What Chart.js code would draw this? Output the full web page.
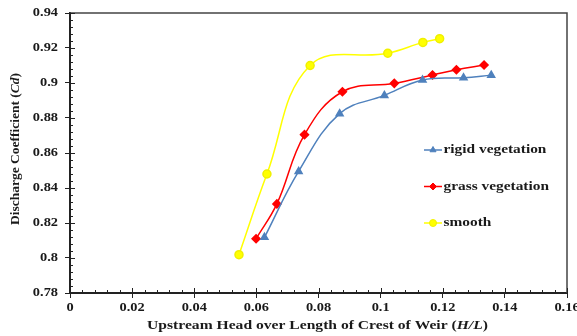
<!DOCTYPE html>
<html>
<head>
<meta charset="utf-8">
<script src="https://cdn.jsdelivr.net/npm/chart.js@4.4.0/dist/chart.umd.min.js"></script>
<style>
  html, body { margin: 0; padding: 0; background: #fff; }
  #wrap { width: 577px; height: 336px; position: relative; }
</style>
</head>
<body>
<div id="wrap"><canvas id="grafica"></canvas></div>
<script>
// datos (H/L contra Cd)
const xRigida = [0.0626, 0.0736, 0.0868, 0.1012, 0.1135, 0.1267, 0.1356];
const yRigida = [0.8118, 0.8495, 0.8825, 0.8929, 0.9017, 0.9030, 0.9045];

const xPasto = [0.0599, 0.0666, 0.0755, 0.0877, 0.1044, 0.1167, 0.1244, 0.1333];
const yPasto = [0.8110, 0.8309, 0.8705, 0.8950, 0.8998, 0.9046, 0.9076, 0.9103];

const xLiso = [0.0544, 0.0634, 0.0773, 0.1023, 0.1136, 0.1190];
const yLiso = [0.8019, 0.8480, 0.9100, 0.9170, 0.9232, 0.9253];

const nombres = ['rigid vegetation', 'grass vegetation', 'smooth'];

const ticksX = [0, 0.02, 0.04, 0.06, 0.08, 0.1, 0.12, 0.14, 0.16];
const ticksY = [0.78, 0.8, 0.82, 0.84, 0.86, 0.88, 0.9, 0.92, 0.94];

const FUENTE = '"Liberation Serif", "Times New Roman", serif';
const ESTIRA = 1.25; // la figura original viene estirada a lo ancho
const pares = (xs, ys) => xs.map((x, i) => ({ x: x, y: ys[i] }));

// texto por partes (normal / cursiva), estirado en horizontal
// align: 'left' | 'center' | 'right'
function textoPartes(ctx, partes, x, y, size, align, sx) {
  const medidas = partes.map(p => {
    ctx.font = (p.it ? 'italic ' : '') + 'bold ' + size + 'px ' + FUENTE;
    return ctx.measureText(p.t).width;
  });
  const total = medidas.reduce((a, b) => a + b, 0) * sx;
  let x0 = align === 'center' ? x - total / 2 : align === 'right' ? x - total : x;
  ctx.save();
  ctx.translate(x0, y);
  ctx.scale(sx, 1);
  ctx.textAlign = 'left';
  ctx.textBaseline = 'middle';
  let acc = 0;
  partes.forEach((p, i) => {
    ctx.font = (p.it ? 'italic ' : '') + 'bold ' + size + 'px ' + FUENTE;
    ctx.fillText(p.t, acc, 0);
    acc += medidas[i];
  });
  ctx.restore();
}

// marco, ticks menores, etiquetas, titulos y leyenda dentro del area
const marco = {
  id: 'marco',
  beforeDatasetsDraw(chart) {
    const { ctx, chartArea: a, scales } = chart;
    ctx.save();
    ctx.strokeStyle = '#444';
    ctx.lineWidth = 1.5;
    ctx.beginPath();
    ctx.moveTo(a.left, a.top); ctx.lineTo(a.right, a.top); ctx.lineTo(a.right, a.bottom);
    ctx.stroke();
    // ticks menores hacia adentro
    ctx.strokeStyle = '#222';
    ctx.lineWidth = 1;
    for (let i = 0; i <= 40; i++) {
      const px = Math.round(scales.x.getPixelForValue(i * 0.004)) + 0.5;
      ctx.beginPath(); ctx.moveTo(px, a.bottom); ctx.lineTo(px, a.bottom - (i % 5 === 0 ? 5 : 3)); ctx.stroke();
      const py = Math.round(scales.y.getPixelForValue(0.78 + i * 0.004)) + 0.5;
      ctx.beginPath(); ctx.moveTo(a.left, py); ctx.lineTo(a.left + (i % 5 === 0 ? 5 : 3), py); ctx.stroke();
    }
    ctx.restore();
  },
  afterDraw(chart) {
    const { ctx, chartArea: a, scales } = chart;
    ctx.save();
    ctx.fillStyle = '#1a1a1a';

    // etiquetas de los ejes
    ticksX.forEach(v => textoPartes(ctx, [{ t: String(v) }], scales.x.getPixelForValue(v), 308, 11.5, 'center', ESTIRA));
    ticksY.forEach(v => textoPartes(ctx, [{ t: String(v) }], 58, scales.y.getPixelForValue(v), 11.5, 'right', ESTIRA));

    // titulo eje x con parte en cursiva
    textoPartes(ctx, [
      { t: 'Upstream Head over Length of Crest of Weir (' }, { t: 'H/L', it: true }, { t: ')' }
    ], (a.left + a.right) / 2 - 1, 325.5, 13, 'center', 1.2);

    // titulo eje y rotado
    ctx.save();
    ctx.translate(16, 149);
    ctx.rotate(-Math.PI / 2);
    textoPartes(ctx, [
      { t: 'Discharge Coefficient (' }, { t: 'Cd', it: true }, { t: ')' }
    ], 0, 0, 13.5, 'center', 1);
    ctx.restore();

    // leyenda
    const filas = [150, 186.5, 223];
    chart.data.datasets.forEach((ds, i) => {
      const y = filas[i];
      ctx.strokeStyle = ds.borderColor;
      ctx.lineWidth = 1.5;
      ctx.beginPath(); ctx.moveTo(424, y); ctx.lineTo(442, y); ctx.stroke();
      ctx.fillStyle = ds.pointBackgroundColor;
      ctx.strokeStyle = ds.pointBorderColor;
      ctx.lineWidth = 1;
      Chart.helpers.drawPoint(ctx, { pointStyle: ds.pointStyle, radius: 3.5, rotation: 0, borderWidth: 1 }, 433, y);
      ctx.fillStyle = '#1a1a1a';
      textoPartes(ctx, [{ t: ds.label }], 443.5, y, 12.5, 'left', 1.23);
    });
    ctx.restore();
  }
};

new Chart(document.getElementById('grafica'), {
  type: 'line',
  data: {
    datasets: [
      { label: nombres[0], data: pares(xRigida, yRigida), borderColor: '#4F81BD', backgroundColor: '#4F81BD',
        pointBackgroundColor: '#4F81BD', pointBorderColor: '#4F81BD', pointStyle: 'triangle', pointRadius: 4, borderWidth: 1.5 },
      { label: nombres[1], data: pares(xPasto, yPasto), borderColor: '#FF0000', backgroundColor: '#FF0000',
        pointBackgroundColor: '#FF0000', pointBorderColor: '#FF0000', pointStyle: 'rectRot', pointRadius: 4, borderWidth: 1.5 },
      { label: nombres[2], data: pares(xLiso, yLiso), borderColor: '#FFFF00', backgroundColor: '#FFFF00',
        pointBackgroundColor: '#FFFF00', pointBorderColor: '#F0F000', pointStyle: 'circle', pointRadius: 4, borderWidth: 1.5 }
    ]
  },
  options: {
    responsive: true,
    maintainAspectRatio: false,
    animation: false,
    layout: { padding: { left: 0, top: 13, right: 10, bottom: 0 } },
    elements: { line: { tension: 0.4, cubicInterpolationMode: 'default' } },
    plugins: { legend: { display: false }, tooltip: { enabled: false } },
    scales: {
      x: {
        type: 'linear', min: 0, max: 0.16,
        afterBuildTicks: (sc) => { sc.ticks = ticksX.map(v => ({ value: v })); },
        afterFit: (sc) => { sc.height = 43; sc.paddingLeft = 0; sc.paddingRight = 0; },
        ticks: { display: false },
        grid: { drawOnChartArea: false, tickLength: 5, color: '#222', tickWidth: 1 },
        border: { color: '#222', width: 2 }
      },
      y: {
        type: 'linear', min: 0.78, max: 0.94,
        afterBuildTicks: (sc) => { sc.ticks = ticksY.map(v => ({ value: v })); },
        afterFit: (sc) => { sc.width = 70; sc.paddingTop = 0; sc.paddingBottom = 0; },
        ticks: { display: false },
        grid: { drawOnChartArea: false, tickLength: 5, color: '#222', tickWidth: 1 },
        border: { color: '#222', width: 2 }
      }
    }
  },
  plugins: [marco]
});
</script>
</body>
</html>
